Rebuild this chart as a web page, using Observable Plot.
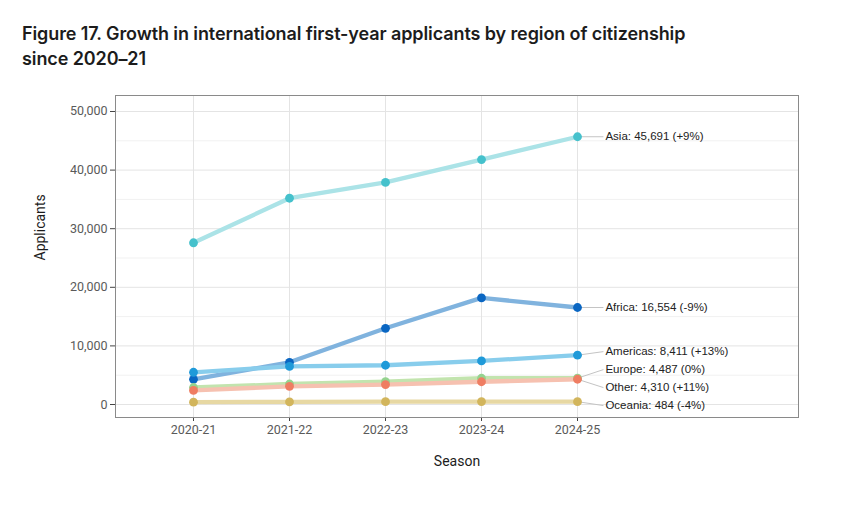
<!DOCTYPE html>
<html>
<head>
<meta charset="utf-8">
<script src="https://cdn.jsdelivr.net/npm/d3@7"></script>
<script src="https://cdn.jsdelivr.net/npm/@observablehq/plot@0.6"></script>
<style>
  html, body { margin: 0; padding: 0; background: #fff; width: 850px; height: 506px; overflow: hidden; }
  #title { box-sizing: border-box; height: 80px; padding: 21px 0 0 22px; font-family: Inter, "Noto Sans", sans-serif; font-weight: 600; font-size: 18px; line-height: 25px; color: #1c1c1c; letter-spacing: -0.1px; }
  #chart svg { display: block; }
</style>
</head>
<body>
<div id="title">Figure 17. Growth in international first-year applicants by region of citizenship<br>since 2020–21</div>
<div id="chart"></div>
<script>
const seasons = ["2020-21", "2021-22", "2022-23", "2023-24", "2024-25"];
const regions = ["Africa", "Americas", "Asia", "Europe", "Oceania", "Other"];
const africa   = [4300, 7200, 13000, 18191, 16554];
const americas = [5500, 6500, 6700, 7443, 8411];
const asia     = [27600, 35200, 37900, 41800, 45691];
const europe   = [2900, 3500, 3900, 4480, 4487];
const oceania  = [400, 450, 480, 504, 484];
const other    = [2400, 3100, 3400, 3883, 4310];
const lineColors  = ["#80b3de", "#88cdec", "#abe3e7", "#c2e4ae", "#e7d8a3", "#f6c1b0"];
const pointColors = ["#0a66c2", "#1f9ad9", "#45c1cc", "#95d38f", "#d2b55c", "#ef7d62"];
const yMajor = [0, 10000, 20000, 30000, 40000, 50000];
const yMinor = [5000, 15000, 25000, 35000, 45000];

const seriesValues = [africa, americas, asia, europe, oceania, other];
const data = [];
regions.forEach((r, ri) => seriesValues[ri].forEach((v, i) => data.push({region: r, i, value: v})));

// end labels
const last = seasons.length - 1;
const labels = regions.map((r, ri) => {
  const vals = seriesValues[ri];
  const v = vals[last], p = vals[last - 1];
  const pct = Math.round((v - p) / p * 100);
  const pctStr = (pct > 0 ? "+" : "") + pct + "%";
  return {region: r, value: v, text: `${r}: ${d3.format(",")(v)} (${pctStr})`, color: pointColors[ri]};
});

// simple cluster repel of label positions (in data units)
const gap = 3070;
const sorted = labels.slice().sort((a, b) => b.value - a.value);
let clusters = sorted.map(l => ({items: [l], top: l.value}));
let changed = true;
while (changed) {
  changed = false;
  for (let k = 1; k < clusters.length; k++) {
    const A = clusters[k - 1], B = clusters[k];
    const aBottom = A.top - (A.items.length - 1) * gap;
    if (B.top > aBottom - gap) {
      const items = A.items.concat(B.items);
      const top = d3.mean(items, (it, j) => it.value + j * gap);
      clusters.splice(k - 1, 2, {items, top});
      changed = true;
      break;
    }
  }
}
clusters.forEach(c => c.items.forEach((it, j) => it.labelY = c.top - j * gap));

const labelX = last + 0.27;
const font = "Roboto, 'Liberation Sans', sans-serif";

const chart = Plot.plot({
  width: 850,
  height: 426,
  marginTop: 15,
  marginBottom: 89,
  marginLeft: 115,
  marginRight: 52,
  style: {fontFamily: font, fontSize: "12.5px", background: "#fff"},
  x: {domain: [-0.8125, 6.302], axis: null},
  y: {domain: [-2218, 52730], axis: null},
  marks: [
    Plot.ruleY(yMinor, {stroke: "#f1f1f1", strokeWidth: 1}),
    Plot.ruleY(yMajor, {stroke: "#e4e4e4", strokeWidth: 1}),
    Plot.ruleX(d3.range(seasons.length), {stroke: "#e4e4e4", strokeWidth: 1}),
    Plot.axisY({ticks: yMajor, tickFormat: d3.format(","), tickSize: 5, tickPadding: 3, color: "#5a5a5a", stroke: "#444", label: null, fontSize: 12.5}),
    Plot.axisX({ticks: d3.range(seasons.length), tickFormat: i => seasons[i], tickSize: 4, tickPadding: 4, color: "#5a5a5a", stroke: "#444", label: null, fontSize: 12.5}),
    Plot.link(labels, {x1: last, y1: "value", x2: labelX, y2: "labelY", stroke: "#c4c4c4", strokeWidth: 1}),
    Plot.line(data, {x: "i", y: "value", z: "region", stroke: d => lineColors[regions.indexOf(d.region)], strokeWidth: 4.3, strokeLinecap: "round", strokeLinejoin: "round"}),
    Plot.dot(data, {x: "i", y: "value", fill: d => pointColors[regions.indexOf(d.region)], r: 4.4, stroke: null}),
    Plot.text(labels, {x: labelX, y: "labelY", text: "text", textAnchor: "start", dx: 2, fill: "#222", fontSize: 11.5, fontFamily: "'Liberation Sans', Arial, sans-serif"}),
    Plot.frame({stroke: "#8a8a8a", strokeWidth: 1}),
    Plot.text(["Applicants"], {frameAnchor: "left", rotate: -90, dx: -75, dy: 4, fontSize: 14, fill: "#1c1c1c", fontFamily: font}),
    Plot.text(["Season"], {frameAnchor: "bottom", dy: 48, fontSize: 14, fill: "#1c1c1c", fontFamily: font})
  ]
});
document.getElementById("chart").appendChild(chart);
</script>
</body>
</html>
